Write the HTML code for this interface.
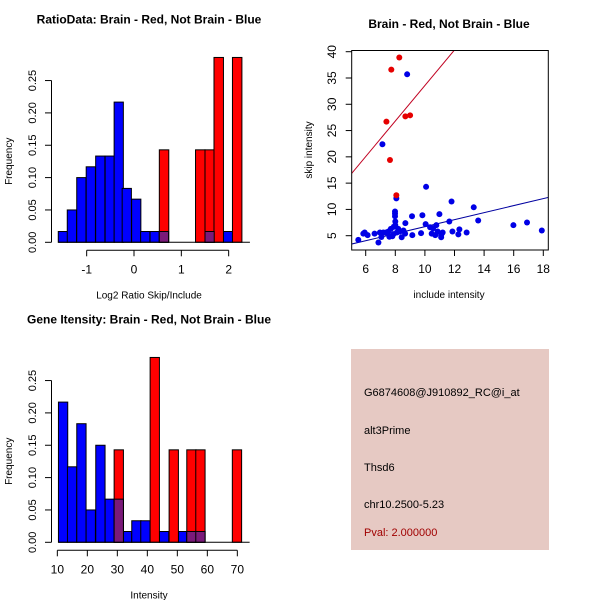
<!DOCTYPE html>
<html><head><meta charset="utf-8"><style>
body{margin:0;background:#fff}
svg{display:block;font-family:"Liberation Sans",sans-serif}
</style></head><body>
<svg id="c" width="600" height="600" viewBox="0 0 600 600">
<rect x="0" y="0" width="600" height="600" fill="#fff"/>
<g id="info">
<rect x="351" y="349" width="198" height="201" fill="#e6c9c3"/>
<text x="364" y="396" font-size="11">G6874608@J910892_RC@i_at</text>
<text x="364" y="434" font-size="11">alt3Prime</text>
<text x="364" y="471" font-size="11">Thsd6</text>
<text x="364" y="508" font-size="11">chr10.2500-5.23</text>
<text x="364" y="536" font-size="11" fill="#a00000">Pval: 2.000000</text>
</g>
</svg>
<script>
// ---- Panel 1: ratio histogram ----
const ratioBlueLefts = [-1.6,-1.41,-1.21,-1.01,-0.81,-0.61,-0.42,-0.25,-0.05,0.14,0.34,0.535,1.5,1.887];
const ratioBlueFreq = [0.0167,0.05,0.1,0.1167,0.1333,0.1333,0.2167,0.0833,0.0667,0.0167,0.0167,0.0167,0.0167,0.0167];
const ratioRedLefts = [0.535,1.3,1.5,1.69,2.08];
const ratioRedFreq = [0.1429,0.1429,0.1429,0.2857,0.2857];
const ratioXTicks = [-1,0,1,2];
const freqTicks = ["0.00","0.05","0.10","0.15","0.20","0.25"];
// ---- Panel 3: intensity histogram ----
const intBlueLefts = [10.37,13.37,16.48,19.59,22.81,25.93,28.93,31.7,34.81,37.81,40.93,44.04,47.26,50.37,53.15,56.15];
const intBlueFreq = [0.2167,0.1167,0.1833,0.05,0.15,0.0667,0.0667,0.0167,0.0333,0.0333,0,0.0167,0,0.0167,0.0167,0.0167];
const intRedLefts = [28.93,40.93,47.26,53.15,56.15,68.33];
const intRedFreq = [0.1429,0.2857,0.1429,0.1429,0.1429,0.1429];
const intXTicks = [10,20,30,40,50,60,70];
// ---- Panel 2: scatter ----
const redInc = [8.27,7.73,7.4,8.68,9.0,7.64,8.07];
const redSkip = [38.9,36.6,26.7,27.7,27.9,19.4,12.7];
const blueInc = [8.8,7.13,10.08,8.07,11.8,13.3,7.98,7.98,7.98,9.13,9.83,10.98,13.6,11.65,8.68,8.0,10.05,10.77,10.35,10.55,12.33,15.98,16.9,17.9,11.86,12.82,12.26,10.86,10.46,11.1,11.1,9.74,9.15,8.43,8.55,8.3,8.1,7.87,7.7,7.53,7.37,7.19,6.96,7.06,6.86,6.6,6.13,5.93,5.84,5.5,8.0,7.9,8.2,7.6,7.8,8.66,10.7,11.2];
const blueSkip = [35.7,22.4,14.3,12.1,11.5,10.4,9.6,9.2,8.7,8.7,8.9,9.1,7.9,7.7,7.4,7.7,7.2,7.0,6.6,6.4,6.2,7.0,7.5,6.0,5.8,5.6,5.25,5.8,5.4,5.1,4.7,5.5,5.1,4.7,6.0,5.8,5.6,5.3,6.3,5.8,5.6,5.6,5.6,4.75,3.7,5.4,5.1,5.6,5.4,4.2,7.0,6.7,6.3,4.8,4.9,5.4,5.1,5.6];
const redFit = [-0.23,3.38];   // intercept, slope
const blueFit = [0.04,0.668];
const scXTicks = [6,8,10,12,14,16,18];
const scYTicks = [5,10,15,20,25,30,35,40];

const NS="http://www.w3.org/2000/svg";
const svg=document.getElementById('c');
function mk(tag,attrs,parent){const e=document.createElementNS(NS,tag);for(const k in attrs)e.setAttribute(k,attrs[k]);(parent||svg).appendChild(e);return e;}
function txt(x,y,s,opt,parent){const e=mk('text',Object.assign({x:x,y:y,'font-size':11,'text-anchor':'middle'},opt||{}),parent);e.textContent=s;return e;}

function histPanel(name,title,xlabel,xs,base,blueL,blueF,bw,redL,redF,rw,xticks){
  const g=mk('g',{});
  
  
  const ys=v=>base-v*647;
  const t=txt(149,base-219,title,{'font-weight':'bold','font-size':12},g);
  
  
  blueL.forEach((l,i)=>{if(blueF[i]<=0)return;
    const r=mk('rect',{x:xs(l),y:ys(blueF[i]),width:xs(l+bw)-xs(l),height:base-ys(blueF[i]),fill:'#0000ff',stroke:'#000','stroke-width':1},g);
    
    });
  redL.forEach((l,i)=>{
    const r=mk('rect',{x:xs(l),y:ys(redF[i]),width:xs(l+rw)-xs(l),height:base-ys(redF[i]),fill:'#ff0000',stroke:'#000','stroke-width':1},g);
    
    });
  blueL.forEach((l,i)=>{if(blueF[i]<=0)return;
    const ov=redL.some(r=>Math.min(r+rw,l+bw)-Math.max(r,l)>0.5*bw);
    if(!ov)return;
    const r=mk('rect',{x:xs(l),y:ys(blueF[i]),width:xs(l+bw)-xs(l),height:base-ys(blueF[i]),fill:'#7a1a7a',stroke:'#000','stroke-width':1},g);
    
    });
  const allL=blueL.concat(redL);
  const mn=Math.min(...allL),mx=Math.max(...redL.map(v=>v+rw),...blueL.map(v=>v+bw));
  mk('line',{x1:xs(mn),x2:xs(mx)+8,y1:base,y2:base,stroke:'#000'},g);
  const ya=mk('g',{},g);
  
  
  mk('line',{x1:51.5,x2:51.5,y1:base,y2:ys(0.25),stroke:'#000'},ya);
  freqTicks.forEach(s=>{const v=parseFloat(s);const y=ys(v);
    mk('line',{x1:45,x2:51.5,y1:y,y2:y,stroke:'#000'},ya);
    const e=txt(0,0,s,{transform:`translate(36,${y}) rotate(-90)`},ya);
    
    });
  const yt=txt(0,0,'Frequency',{transform:`translate(12,${base-81}) rotate(-90)`,'font-size':10},g);
  
  
  const xa=mk('g',{},g);
  
  
  const ay=base+8;
  mk('line',{x1:xs(xticks[0]),x2:xs(xticks[xticks.length-1]),y1:ay,y2:ay,stroke:'#000'},xa);
  xticks.forEach(v=>{mk('line',{x1:xs(v),x2:xs(v),y1:ay,y2:ay+6,stroke:'#000'},xa);
    const e=txt(xs(v),ay+23,String(v),{'font-size':12},xa);
    
    });
  const xt=txt(149,base+56,xlabel,{'font-size':10},g);
  
  
}
histPanel('ratio-histogram','RatioData: Brain - Red, Not Brain - Blue','Log2 Ratio Skip/Include',
  v=>134+v*47.33,242.3,ratioBlueLefts,ratioBlueFreq,0.195,ratioRedLefts,ratioRedFreq,0.2,ratioXTicks);
histPanel('intensity-histogram','Gene Itensity: Brain - Red, Not Brain - Blue','Intensity',
  v=>57.33+(v-10)*3,542.3,intBlueLefts,intBlueFreq,3.1,intRedLefts,intRedFreq,3.1,intXTicks);

(function(){
  const g=mk('g',{});
  
  
  const xs=v=>365.7+(v-6)*14.8, ys=v=>235.7-(v-5)*5.257;
  const L=351.7,R=548.3,T=50.5,B=250;
  const t=txt(449,28,'Brain - Red, Not Brain - Blue',{'font-weight':'bold','font-size':12},g);
  
  
  const clip=mk('clipPath',{id:'sc'},g);mk('rect',{x:L,y:T,width:R-L,height:B-T},clip);
  const pts=mk('g',{'clip-path':'url(#sc)'},g);
  [[redFit,'#c00020'],[blueFit,'#0000a0']].forEach(([f,c])=>{
    const x0=4,x1=20;
    const l=mk('line',{x1:xs(x0),y1:ys(f[0]+f[1]*x0),x2:xs(x1),y2:ys(f[0]+f[1]*x1),stroke:c,'stroke-width':1},pts);
    
    });
  blueInc.forEach((x,i)=>{const c=mk('circle',{cx:xs(x),cy:ys(blueSkip[i]),r:3,fill:'#0000e6'},pts);
    
    });
  redInc.forEach((x,i)=>{const c=mk('circle',{cx:xs(x),cy:ys(redSkip[i]),r:3,fill:'#e60000'},pts);
    
    });
  mk('rect',{x:L,y:T,width:R-L,height:B-T,fill:'none',stroke:'#000'},g);
  scXTicks.forEach(v=>{mk('line',{x1:xs(v),x2:xs(v),y1:B,y2:B+6,stroke:'#000'},g);
    const e=txt(xs(v),B+23,String(v),{'font-size':12},g);
    
    });
  scYTicks.forEach(v=>{mk('line',{x1:L-6,x2:L,y1:ys(v),y2:ys(v),stroke:'#000'},g);
    const e=txt(0,0,String(v),{transform:`translate(336,${ys(v)}) rotate(-90)`,'font-size':12},g);
    
    });
  const xt=txt(449,298,'include intensity',{'font-size':10},g);
  
  
  const yt=txt(0,0,'skip intensity',{transform:'translate(312,150) rotate(-90)','font-size':10},g);
  
  
})();
</script>
</body></html>
